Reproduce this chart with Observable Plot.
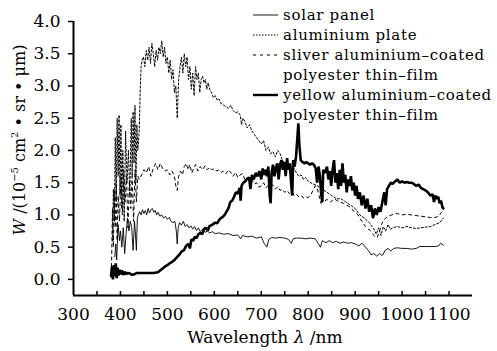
<!DOCTYPE html>
<html><head><meta charset="utf-8">
<script src="https://cdn.jsdelivr.net/npm/d3@7"></script>
<script src="https://cdn.jsdelivr.net/npm/@observablehq/plot@0.6"></script>
<style>body{margin:0;background:#fff} svg{font-family:"DejaVu Serif",serif}</style>
</head><body><div id="chart"></div>
<script>
const seriesNames = ["solar panel", "aluminium plate", "sliver aluminium\u2013coated polyester thin\u2013film", "yellow aluminium\u2013coated polyester thin\u2013film"];
const xTicks = [300,400,500,600,700,800,900,1000,1100];
const xMinorTicks = [350,400,450,500,550,600,650,700,750,800,850,900,950,1000,1050,1100];
const yTicks = [0,0.5,1,1.5,2,2.5,3,3.5,4];

const solarPanel = [[388,0.35],[390,0.55],[392,0.3],[395,0.85],[398,0.6],[400,0.75],[403,0.5],[406,0.8],[409,0.4],[412,0.7],[415,0.95],[418,0.75],[421,0.9],[424,0.8],[427,0.45],[430,0.9],[432,0.7],[434,0.45],[436,0.95],[438,1.0],[441,1.05],[444,1.0],[447,1.08],[450,1.02],[453,1.07],[456,1.0],[459,1.1],[462,1.03],[465,1.08],[468,1.1],[471,1.04],[474,1.07],[477,1.0],[480,1.04],[484,0.98],[488,1.0],[492,0.95],[496,0.98],[500,0.93],[504,0.96],[508,0.9],[512,0.88],[516,0.9],[519,0.75],[521,0.55],[523,0.8],[526,0.88],[530,0.84],[534,0.9],[538,0.82],[542,0.85],[546,0.8],[550,0.83],[554,0.78],[558,0.82],[562,0.76],[566,0.8],[570,0.74],[575,0.78],[580,0.73],[585,0.75],[590,0.72],[596,0.74],[602,0.71],[610,0.72],[620,0.7],[630,0.71],[640,0.68],[650,0.69],[656,0.63],[660,0.68],[670,0.66],[680,0.67],[690,0.64],[700,0.66],[706,0.56],[712,0.5],[716,0.62],[722,0.65],[730,0.64],[740,0.65],[750,0.64],[758,0.62],[764,0.56],[768,0.63],[775,0.64],[785,0.64],[795,0.63],[805,0.64],[815,0.63],[822,0.55],[826,0.5],[830,0.6],[838,0.57],[845,0.6],[852,0.57],[860,0.59],[868,0.56],[876,0.58],[884,0.56],[892,0.57],[900,0.55],[908,0.52],[915,0.56],[922,0.5],[928,0.45],[934,0.38],[940,0.4],[946,0.36],[952,0.4],[958,0.37],[964,0.45],[970,0.48],[976,0.44],[982,0.48],[990,0.49],[1000,0.48],[1010,0.48],[1020,0.47],[1030,0.48],[1038,0.51],[1050,0.51],[1060,0.51],[1070,0.51],[1078,0.52],[1082,0.56],[1088,0.53]];

const aluminiumPlate = [[383,0.6],[385,1.4],[387,0.9],[389,2.2],[391,1.2],[393,2.5],[395,1.6],[397,2.55],[399,1.3],[401,2.4],[403,1.1],[405,2.0],[408,0.9],[411,2.3],[414,1.5],[417,2.0],[420,1.3],[423,2.5],[425,1.6],[427,2.6],[429,1.8],[431,2.7],[433,1.5],[435,2.4],[437,2.0],[440,2.3],[442,2.9],[444,3.3],[446,3.4],[449,3.45],[452,3.3],[455,3.55],[458,3.4],[461,3.6],[464,3.35],[467,3.66],[470,3.5],[473,3.3],[476,3.55],[479,3.4],[482,3.6],[485,3.5],[488,3.7],[491,3.45],[494,3.6],[497,3.35],[500,3.45],[503,3.2],[506,3.4],[509,3.1],[512,3.25],[515,2.9],[518,3.0],[521,2.5],[524,3.1],[527,3.3],[530,3.45],[533,3.2],[536,3.5],[539,3.3],[542,3.45],[545,3.1],[548,3.3],[551,2.95],[554,3.2],[557,2.85],[560,3.3],[563,3.1],[566,3.2],[569,2.9],[572,3.1],[575,3.15],[578,3.05],[581,3.1],[584,2.95],[587,3.05],[590,2.95],[594,2.9],[598,2.82],[602,2.85],[606,2.78],[610,2.8],[615,2.72],[620,2.7],[625,2.68],[630,2.65],[635,2.7],[640,2.62],[645,2.58],[650,2.6],[655,2.55],[658,2.4],[661,2.5],[665,2.45],[670,2.35],[675,2.4],[680,2.3],[685,2.25],[690,2.2],[695,2.15],[700,2.1],[705,2.15],[710,2.0],[715,2.05],[720,1.95],[725,1.98],[730,1.9],[735,2.0],[740,1.95],[745,1.85],[750,1.8],[755,1.82],[760,1.75],[765,1.7],[770,1.72],[775,1.65],[780,1.6],[785,1.62],[790,1.55],[795,1.58],[800,1.52],[810,1.48],[820,1.45],[830,1.4],[840,1.35],[850,1.3],[860,1.25],[870,1.25],[880,1.2],[890,1.15],[900,1.1],[910,1.0],[920,0.95],[930,0.88],[940,0.78],[945,0.7],[950,0.8],[955,0.68],[960,0.82],[965,0.75],[970,0.85],[975,0.78],[980,0.8],[990,0.82],[1000,0.8],[1010,0.82],[1020,0.8],[1030,0.79],[1040,0.8],[1050,0.81],[1060,0.82],[1070,0.85],[1080,0.88],[1088,0.95]];

const sliverFilm = [[381,0.2],[383,1.1],[385,0.5],[387,1.4],[389,0.8],[391,1.5],[393,0.6],[395,1.3],[398,0.9],[401,1.6],[404,1.0],[407,1.7],[410,1.2],[413,1.6],[416,0.8],[419,1.5],[422,1.1],[425,1.6],[428,0.9],[431,1.7],[434,1.2],[437,1.6],[440,1.55],[445,1.62],[450,1.7],[455,1.65],[460,1.75],[465,1.6],[470,1.72],[475,1.8],[480,1.7],[485,1.8],[490,1.72],[495,1.68],[500,1.7],[505,1.62],[510,1.68],[515,1.6],[518,1.45],[521,1.38],[524,1.6],[528,1.68],[532,1.62],[536,1.75],[540,1.8],[544,1.7],[548,1.78],[552,1.65],[556,1.72],[560,1.78],[565,1.68],[570,1.75],[575,1.7],[580,1.76],[585,1.7],[590,1.74],[595,1.7],[600,1.72],[605,1.68],[610,1.7],[615,1.66],[620,1.68],[625,1.64],[630,1.7],[635,1.66],[640,1.6],[645,1.66],[650,1.58],[655,1.62],[660,1.64],[665,1.55],[670,1.58],[675,1.52],[680,1.55],[685,1.48],[690,1.5],[695,1.43],[700,1.45],[705,1.5],[710,1.42],[715,1.46],[720,1.48],[725,1.46],[730,1.4],[735,1.44],[740,1.38],[745,1.4],[750,1.35],[755,1.38],[760,1.33],[765,1.36],[770,1.3],[775,1.32],[780,1.28],[785,1.3],[790,1.26],[795,1.28],[800,1.27],[805,1.3],[810,1.38],[815,1.45],[819,1.43],[823,1.3],[827,1.18],[832,1.2],[840,1.24],[848,1.2],[855,1.25],[862,1.22],[868,1.2],[875,1.18],[882,1.15],[890,1.12],[898,1.05],[904,1.02],[910,0.95],[916,0.88],[922,0.82],[928,0.78],[932,0.76],[938,0.7],[942,0.66],[947,0.65],[952,0.75],[956,0.85],[960,0.91],[965,0.95],[970,0.98],[978,1.0],[985,1.02],[990,1.02],[1000,1.0],[1010,1.01],[1020,1.0],[1030,0.99],[1040,0.98],[1050,0.97],[1060,0.96],[1070,0.96],[1078,0.98],[1085,1.05],[1088,1.07]];

const yellowFilm = [[380,0.05],[382,0.2],[384,0.0],[386,0.22],[388,0.05],[390,0.25],[392,0.02],[394,0.18],[396,0.06],[398,0.15],[400,0.08],[403,0.14],[406,0.07],[409,0.12],[412,0.08],[416,0.1],[420,0.09],[425,0.07],[430,0.08],[435,0.1],[440,0.1],[450,0.1],[460,0.1],[470,0.1],[480,0.11],[485,0.14],[490,0.17],[495,0.2],[500,0.22],[505,0.25],[510,0.27],[515,0.3],[520,0.34],[525,0.38],[530,0.43],[535,0.45],[540,0.52],[545,0.55],[548,0.48],[551,0.62],[555,0.6],[558,0.66],[562,0.64],[566,0.7],[570,0.72],[574,0.7],[578,0.78],[582,0.8],[586,0.76],[590,0.83],[594,0.84],[598,0.86],[602,0.88],[606,0.87],[610,0.92],[614,0.95],[618,0.97],[622,1.0],[626,1.05],[630,1.1],[634,1.2],[638,1.22],[642,1.28],[646,1.35],[650,1.33],[654,1.42],[656,1.22],[658,1.45],[662,1.5],[666,1.52],[670,1.56],[674,1.58],[677,1.4],[680,1.62],[684,1.55],[688,1.65],[692,1.6],[696,1.68],[700,1.55],[703,1.72],[706,1.62],[709,1.7],[712,1.6],[715,1.75],[718,1.3],[720,1.18],[722,1.65],[725,1.78],[728,1.6],[731,1.72],[734,1.8],[737,1.55],[740,1.78],[743,1.85],[746,1.7],[749,1.82],[752,1.6],[755,1.88],[758,1.7],[761,1.8],[764,1.45],[766,1.3],[768,1.85],[771,1.75],[774,1.9],[777,2.2],[779,2.42],[781,2.1],[784,1.85],[788,1.82],[792,1.8],[796,1.82],[800,1.8],[804,1.78],[808,1.8],[812,1.78],[816,1.72],[819,1.5],[822,1.75],[825,1.6],[828,1.3],[830,1.2],[832,1.7],[836,1.65],[840,1.75],[843,1.55],[846,1.68],[849,1.45],[852,1.7],[855,1.85],[858,1.5],[861,1.65],[864,1.4],[867,1.7],[870,1.45],[873,1.8],[876,1.5],[879,1.62],[882,1.35],[885,1.55],[888,1.45],[891,1.6],[894,1.38],[897,1.5],[900,1.3],[903,1.45],[906,1.25],[910,1.35],[914,1.15],[918,1.3],[922,1.1],[926,1.25],[930,1.05],[934,1.15],[938,0.95],[942,1.1],[946,1.0],[950,1.12],[954,1.05],[958,1.2],[962,1.35],[965,1.15],[968,1.4],[972,1.45],[976,1.5],[980,1.48],[985,1.52],[990,1.55],[995,1.5],[1000,1.52],[1005,1.5],[1010,1.51],[1015,1.5],[1020,1.5],[1025,1.48],[1030,1.45],[1035,1.47],[1040,1.42],[1045,1.4],[1050,1.38],[1055,1.35],[1060,1.3],[1065,1.32],[1068,1.2],[1071,1.3],[1074,1.25],[1077,1.28],[1080,1.18],[1083,1.22],[1086,1.12],[1088,1.1]];

const rows = a => a.map(([x, y]) => ({x, y}));

const chart = Plot.plot({
  width: 497, height: 351,
  marginLeft: 73, marginRight: 25, marginTop: 21, marginBottom: 56,
  x: {domain: [300, 1150], axis: null},
  y: {domain: [-0.25, 4], axis: null},
  style: {fontFamily: "'DejaVu Serif', serif", fontSize: "17px", color: "#000", background: "#fff"},
  marks: [
    Plot.lineY(rows(solarPanel), {x: "x", y: "y", stroke: "#000", strokeWidth: 0.9}),
    Plot.lineY(rows(aluminiumPlate), {x: "x", y: "y", stroke: "#000", strokeWidth: 1, strokeDasharray: "2,2"}),
    Plot.lineY(rows(sliverFilm), {x: "x", y: "y", stroke: "#000", strokeWidth: 1, strokeDasharray: "3,3.5"}),
    Plot.lineY(rows(yellowFilm), {x: "x", y: "y", stroke: "#000", strokeWidth: 2.6, strokeLinejoin: "miter"}),
    Plot.axisY(yTicks, {tickSize: 5, tickPadding: 8, strokeWidth: 1.5, tickFormat: d => d.toFixed(1), fontSize: 17, label: null}),
    Plot.axisX(xMinorTicks, {tickSize: -4, strokeWidth: 1.5, tickFormat: () => "", label: null}),
    Plot.axisX(xTicks, {tickSize: 0, tickPadding: 12, fontSize: 17, tickFormat: d => String(d), label: null}),
    Plot.ruleX([300], {stroke: "#000", strokeWidth: 2}),
    Plot.ruleY([-0.25], {stroke: "#000", strokeWidth: 2})
  ]
});
document.getElementById("chart").appendChild(chart);

const svg = d3.select(chart);
// legend
const legendItems = [
  {label: ["solar panel"], w: 0.9, dash: null},
  {label: ["aluminium plate"], w: 1, dash: "1.5,1.5"},
  {label: ["sliver aluminium\u2013coated", "polyester thin\u2013film"], w: 1, dash: "3,4"},
  {label: ["yellow aluminium\u2013coated", "polyester thin\u2013film"], w: 2.4, dash: null}
];
let ly = 15;
const lg = svg.append("g").attr("font-family", "'DejaVu Serif', serif").attr("font-size", 15).attr("fill", "#000").attr("text-anchor", "start");
legendItems.forEach(it => {
  lg.append("line").attr("x1", 253).attr("x2", 278).attr("y1", ly).attr("y2", ly)
    .attr("stroke", "#000").attr("stroke-width", it.w).attr("stroke-dasharray", it.dash);
  it.label.forEach(t => {
    lg.append("text").attr("x", 283).attr("y", ly).attr("dy", "0.32em").attr("text-anchor", "start")
      .attr("letter-spacing", 0.7).text(t);
    ly += 20;
  });
});
// y label
const yl = svg.append("text").attr("transform", "translate(25,140) rotate(-90)")
  .attr("text-anchor", "middle").attr("font-family", "'DejaVu Serif', serif").attr("font-size", 16).attr("fill", "#000");
yl.append("tspan").attr("font-style", "italic").text("W");
yl.append("tspan").text(" /(10");
yl.append("tspan").attr("font-size", 10).attr("dy", -7).text("\u22125");
yl.append("tspan").attr("dy", 7).text(" cm");
yl.append("tspan").attr("font-size", 10).attr("dy", -7).text("2");
yl.append("tspan").attr("dy", 7).text(" \u2022 sr \u2022 \u03bcm)");
// x label
const xl = svg.append("text").attr("x", 265).attr("y", 343).attr("text-anchor", "middle")
  .attr("font-family", "'DejaVu Serif', serif").attr("font-size", 17).attr("fill", "#000");
xl.append("tspan").text("Wavelength ");
xl.append("tspan").attr("font-style", "italic").text("\u03bb");
xl.append("tspan").text(" /nm");
</script>
</body></html>
